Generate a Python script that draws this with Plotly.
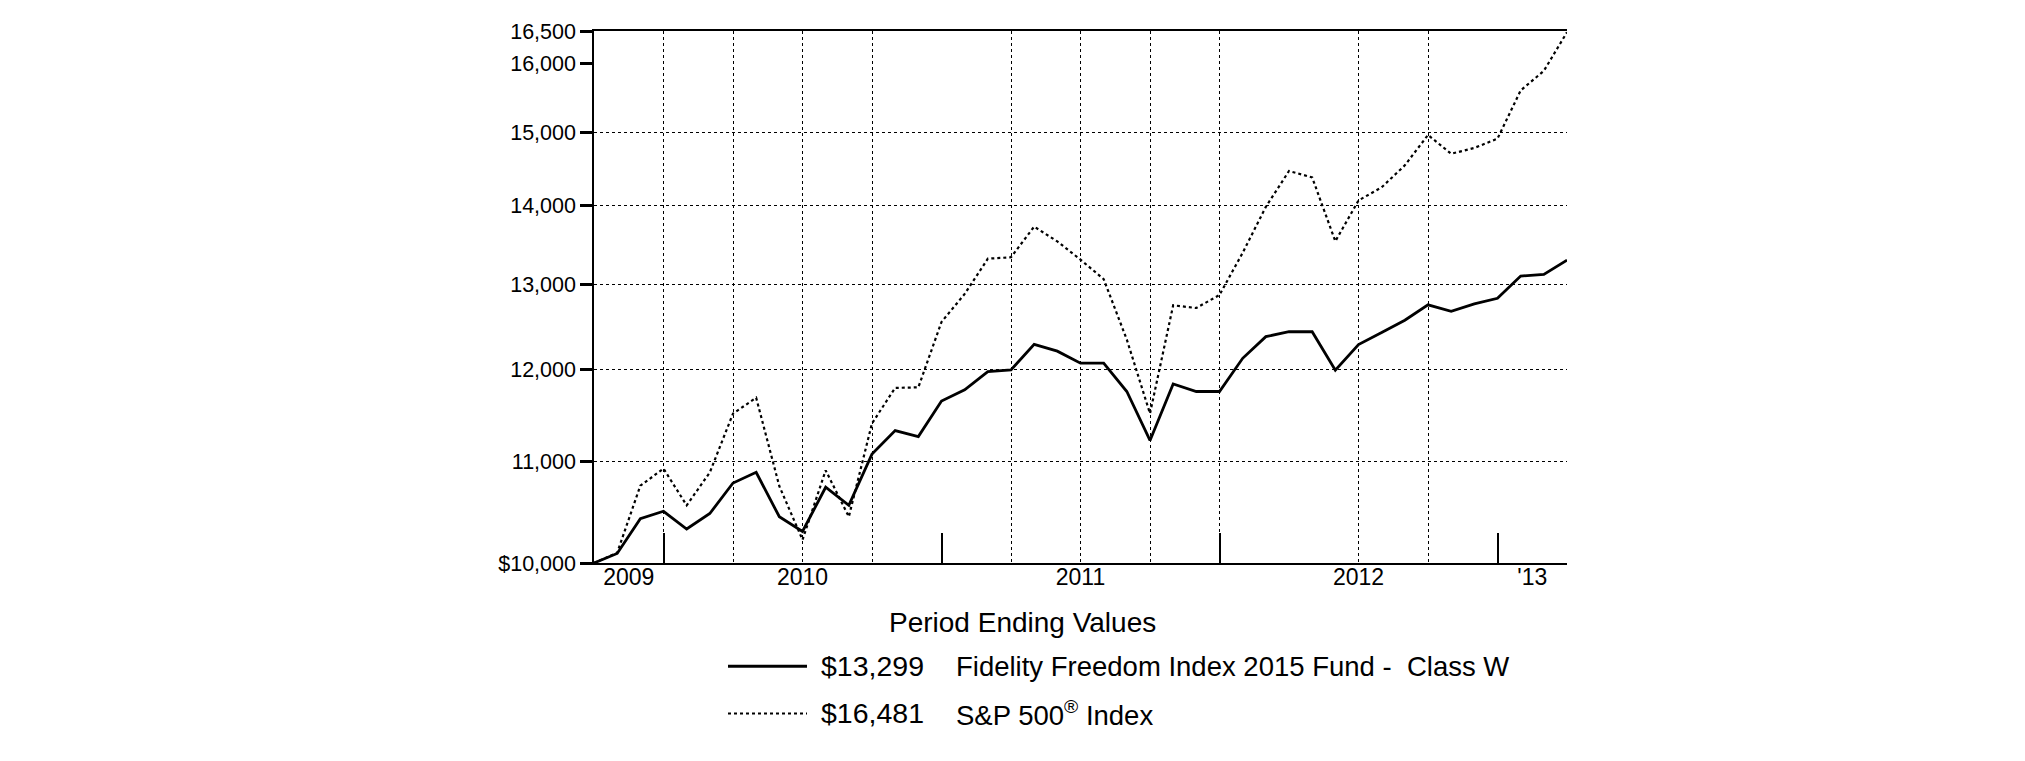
import math
import pandas as pd
import plotly.graph_objects as go

# ---- data (monthly period-ending values, Sep 2009 .. Mar 2013) ----
periods = pd.date_range("2009-09-30", periods=43, freq="ME").strftime("%b %Y").tolist()
month_index = list(range(43))

fund_values = [10000, 10090, 10425, 10499, 10325, 10477, 10782, 10891, 10445, 10301,
               10739, 10558, 11080, 11327, 11264, 11647, 11770, 11975, 11994, 12286,
               12207, 12069, 12069, 11752, 11223, 11835, 11752, 11752, 12125, 12375,
               12432, 12432, 11990, 12283, 12423, 12567, 12751, 12673, 12763, 12830,
               13101, 13122, 13299]
sp500_values = [10000, 10096, 10755, 10929, 10558, 10890, 11510, 11683, 10750, 10221,
                10911, 10445, 11405, 11792, 11798, 12547, 12882, 13317, 13335, 13725,
                13535, 13305, 13063, 12340, 11511, 12745, 12713, 12870, 13391, 13982,
                14463, 14376, 13537, 14067, 14243, 14540, 14962, 14699, 14780, 14910,
                15602, 15892, 16481]

fund_name = "Fidelity Freedom Index 2015 Fund -  Class W"
sp_name = "S&P 500<sup>®</sup> Index"
fund_end_label = "$13,299"
sp_end_label = "$16,481"
legend_title = "Period Ending Values"

y_tickvals = [10000, 11000, 12000, 13000, 14000, 15000, 16000, 16500]
y_ticktext = ["$10,000", "11,000", "12,000", "13,000", "14,000", "15,000", "16,000", "16,500"]
y_gridvals = [11000, 12000, 13000, 14000, 15000]

year_label_pos = [1.5, 9, 21, 33, 40.5]
year_labels = ["2009", "2010", "2011", "2012", "'13"]
year_end_ticks = [3, 15, 27, 39]
x_gridvals = [3, 6, 9, 12, 18, 21, 24, 27, 33, 36]

FONT = "Liberation Sans, Arial, Helvetica, sans-serif"

# ---- layout geometry (pixels) ----
W, H = 2025, 761
L, R, T, B = 586, 466, 14, 206
PW, PH = W - L - R, H - T - B


def px(x):
    return (x - L) / PW


def py(y):
    return 1 - (y - T) / PH


fig = go.Figure()
fig.add_trace(go.Scatter(x=month_index, y=fund_values, mode="lines", name=fund_name,
                         text=periods, line=dict(color="black", width=2.8),
                         showlegend=False, xaxis="x", yaxis="y"))
fig.add_trace(go.Scatter(x=month_index, y=sp500_values, mode="lines", name="S&P 500® Index",
                         text=periods, line=dict(color="black", width=2.2, dash="3px,3px"),
                         showlegend=False, xaxis="x2", yaxis="y"))

xrange = [0, 42]
yrange = [4, math.log10(16500)]

fig.update_layout(
    width=W, height=H,
    margin=dict(l=L, r=R, t=T, b=B, pad=0),
    paper_bgcolor="white", plot_bgcolor="white",
    font=dict(family=FONT, color="black", size=21),
    xaxis=dict(range=xrange, tickmode="array", tickvals=year_label_pos, ticktext=year_labels,
               ticks="", showgrid=False, zeroline=False, showline=False,
               tickfont=dict(size=23), ticklabelstandoff=-2),
    xaxis2=dict(range=xrange, overlaying="x", anchor="y", side="bottom",
                tickmode="array", tickvals=year_end_ticks, ticks="inside", ticklen=30,
                tickwidth=2, tickcolor="black", showticklabels=False, showgrid=False,
                zeroline=False, showline=True, linecolor="black", linewidth=1.5, mirror=True,
                minor=dict(tickmode="array", tickvals=x_gridvals, showgrid=True,
                           griddash="dot", gridcolor="black", gridwidth=1, ticks="")),
    yaxis=dict(type="log", range=yrange, tickmode="array", tickvals=y_tickvals,
               ticktext=y_ticktext, ticks="outside", ticklen=12, tickwidth=2.5,
               tickcolor="black", showline=True, linecolor="black", linewidth=1.5,
               showgrid=False, zeroline=False, tickfont=dict(size=21.5),
               minor=dict(tickmode="array", tickvals=y_gridvals, showgrid=True,
                          griddash="dot", gridcolor="black", gridwidth=1, ticks="")),
)

# ---- custom legend below the plot ----
shapes = [
    dict(type="line", xref="paper", yref="paper", x0=px(720), x1=px(799), y0=py(660), y1=py(660),
         line=dict(color="black", width=3)),
    dict(type="line", xref="paper", yref="paper", x0=px(720), x1=px(799), y0=py(708), y1=py(708),
         line=dict(color="black", width=2, dash="3px,3px")),
]
annotations = [
    dict(text=legend_title, x=px(1014), y=py(615), xref="paper", yref="paper",
         xanchor="center", yanchor="middle", showarrow=False, font=dict(size=28)),
    dict(text=fund_end_label, x=px(811), y=py(660), xref="paper", yref="paper",
         xanchor="left", yanchor="middle", showarrow=False, font=dict(size=28.5)),
    dict(text=fund_name, x=px(946), y=py(660), xref="paper", yref="paper",
         xanchor="left", yanchor="middle", showarrow=False, font=dict(size=27.5)),
    dict(text=sp_end_label, x=px(811), y=py(708), xref="paper", yref="paper",
         xanchor="left", yanchor="middle", showarrow=False, font=dict(size=28.5)),
    dict(text=sp_name, x=px(946), y=py(708), xref="paper", yref="paper",
         xanchor="left", yanchor="middle", showarrow=False, font=dict(size=27.5)),
]
fig.update_layout(shapes=shapes, annotations=annotations)

fig.write_html("out.html")
